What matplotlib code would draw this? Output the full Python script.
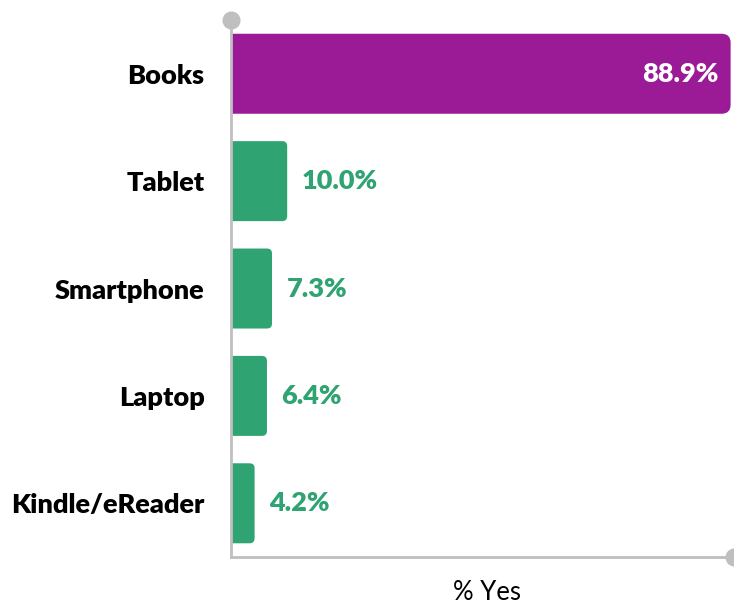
import matplotlib
matplotlib.use("Agg")
import matplotlib.pyplot as plt
from matplotlib.patches import FancyBboxPatch

categories = ["Books", "Tablet", "Smartphone", "Laptop", "Kindle/eReader"]
values = [88.9, 10.0, 7.3, 6.4, 4.2]
value_labels = ["88.9%", "10.0%", "7.3%", "6.4%", "4.2%"]
axis_title = "% Yes"

PURPLE = "#9B1B96"
GREEN = "#2FA371"
GREY = "#BFBFBF"

plt.rcParams["font.family"] = ["Lato", "DejaVu Sans"]

fig = plt.figure(figsize=(7.34, 6.06), dpi=100)
ax = fig.add_axes([0.3147, 0.0809, 0.6853, 0.886])

x_max = 89.5
ax.set_xlim(0, x_max)
ax.set_ylim(4.5, -0.5)

bar_h = 0.745
colors = [PURPLE] + [GREEN] * (len(values) - 1)
ys = list(range(len(categories)))

# bars with rounded right ends; the left rounding sits outside the axes
# and is clipped away at x = 0
px_per_x = 503 / x_max
px_per_y = 537 / 5
radii_px = [9] + [5] * (len(values) - 1)
for y, v, c, rpx in zip(ys, values, colors, radii_px):
    r = rpx / px_per_x
    aspect = (rpx / px_per_y) / r
    ax.add_patch(FancyBboxPatch((-2 * r, y - bar_h / 2), v + 2 * r, bar_h,
                                boxstyle=f"round,pad=0,rounding_size={r}",
                                mutation_aspect=aspect, fc=c, ec="none",
                                zorder=2))

for y, v, lab in zip(ys, values, value_labels):
    if v > 50:
        ax.text(v - 2.2, y, lab, ha="right", va="center", color="white",
                fontsize=19.5, fontweight="heavy", zorder=3)
    else:
        ax.text(v + 2.6, y, lab, ha="left", va="center", color=GREEN,
                fontsize=19.5, fontweight="heavy", zorder=3)

ax.set_yticks(ys)
ax.set_yticklabels(categories, fontsize=19.5, fontweight="heavy", color="black")
ax.tick_params(axis="y", length=0, pad=19)
ax.set_xticks([])

for s in ["top", "right"]:
    ax.spines[s].set_visible(False)
for s in ["left", "bottom"]:
    ax.spines[s].set_color(GREY)
    ax.spines[s].set_linewidth(2)
    ax.spines[s].set_zorder(3)

# end caps on the axis lines
ax.plot([0], [-0.5], "o", color=GREY, ms=12, clip_on=False, zorder=4)
ax.plot([x_max], [4.5], "o", color=GREY, ms=12, clip_on=False, zorder=4)

ax.set_xlabel(axis_title, fontsize=18.5, color="black", va="top")
ax.xaxis.set_label_coords(0.508, -0.043)

fig.savefig("out.png", dpi=100)
